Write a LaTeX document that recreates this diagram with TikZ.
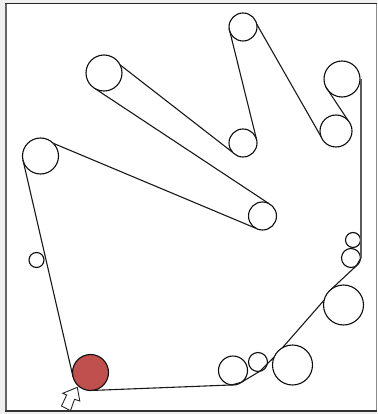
\documentclass[tikz,border=0pt]{standalone}
\definecolor{pulley}{RGB}{192,80,77}
\tikzset{
  x=1pt,y=-1pt,
  belt/.style={draw=black!90,line width=1.1pt,line cap=round},
  beltgray/.style={draw=black!65,line width=1.3pt},
  wheel/.style={circle,draw=black!95,line width=1.1pt,inner sep=0pt,outer sep=0pt,minimum size=#1*2pt},
  pointer/.style={draw=black!85,fill=white,line width=0.9pt,line join=miter},
}
\begin{document}
\begin{tikzpicture}
\useasboundingbox (0,0) rectangle (377,414);
\fill[black!6] (0,0) rectangle (377,414);
\fill[white] (6,3.5) rectangle (376.5,411);
\draw[black!60,line width=1.6pt] (6,3.5) -- (6,411);
\draw[black!45,line width=0.9pt] (376.2,3.5) -- (376.2,411);
\draw[black!85,line width=1.3pt] (5.2,3.5) -- (376.5,3.5);
\draw[black!80,line width=1.5pt] (5.2,411) -- (376.5,411);
\node[wheel=18,fill=pulley] (red) at (90.5,372.5) {};
\node[wheel=18] (a) at (40.5,156) {};
\node[wheel=18] (b) at (104,73) {};
\node[wheel=14] (c) at (243,27) {};
\node[wheel=14] (d) at (243,143) {};
\node[wheel=14] (e) at (262.5,216) {};
\node[wheel=18] (f) at (342,79) {};
\node[wheel=16] (g) at (336,131) {};
\node[wheel=7.5] (h) at (353,240) {};
\node[wheel=9.5] (i) at (351,258) {};
\node[wheel=20] (j) at (343.5,305) {};
\node[wheel=20] (k) at (292.5,365) {};
\node[wheel=9.5] (l) at (258,362) {};
\node[wheel=14.5] (m) at (233,370.5) {};
\node[wheel=7.5] (n) at (36.5,260) {};
% belt
\draw[belt] (red.193) -- (a.193);
\draw[belt] (a.45) -- (e.-120);
\draw[belt] (e.64) -- (b.-120);
\draw[belt] (b.27) -- (d.-139);
\draw[belt] (d.12) -- (c.-174.6);
\draw[belt] (c.12) -- (g.-160);
\draw[belt] (g.40) -- (f.-153);
\draw[beltgray] ([xshift=1pt]f.0) -- ([xshift=.5pt]i.0);
\draw[belt] ([xshift=.5pt]i.0) -- (i.-57);
\draw[belt] (i.-57) -- (j.127);
\draw[belt] (j.166) -- (k.120.5);
\draw[belt] (k.157) -- (l.-80);
\draw[belt] (l.-80) -- (m.-54);
\draw[belt] (m.-54) -- (m.-95);
\draw[belt] (m.-95) -- (red.-86);
\draw[pointer] (77.3,387.3) -- (79.8,401) -- (74.5,399.3) -- (70.5,410.7) -- (61.5,406) -- (66.7,395) -- (62.7,393.3) -- cycle;
\end{tikzpicture}
\end{document}
